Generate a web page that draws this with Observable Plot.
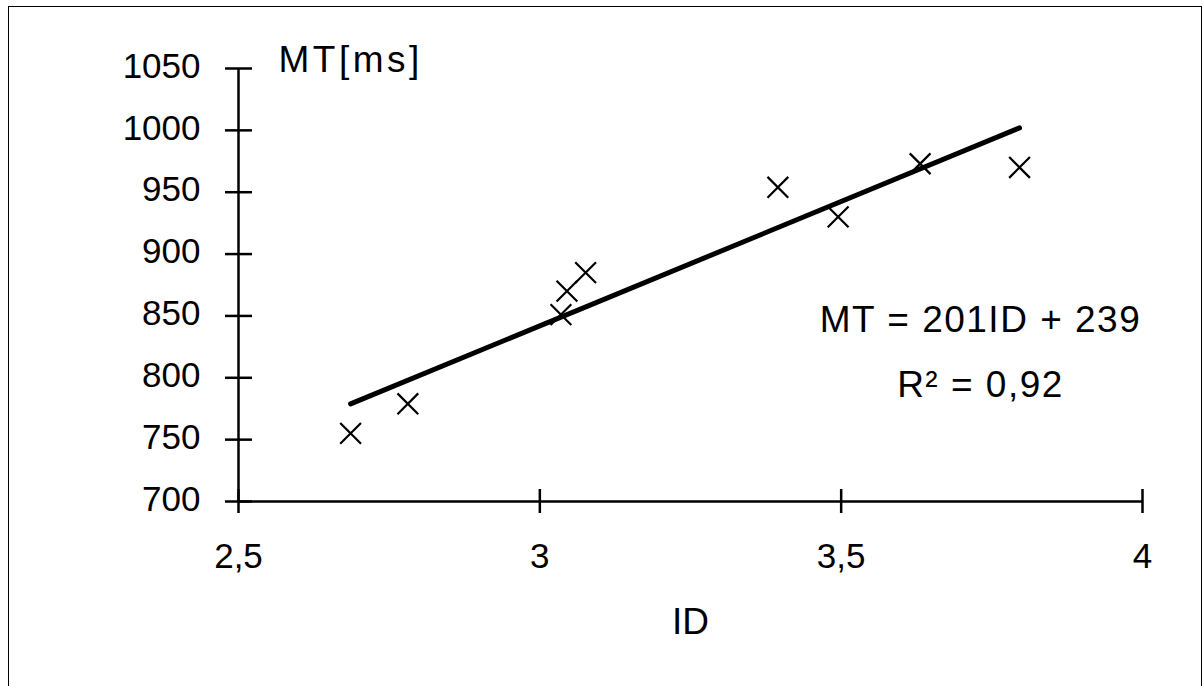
<!DOCTYPE html>
<html>
<head>
<meta charset="utf-8">
<script src="https://cdn.jsdelivr.net/npm/d3@7"></script>
<script src="https://cdn.jsdelivr.net/npm/@observablehq/plot@0.6"></script>
<style>
  html, body { margin: 0; padding: 0; background: #fff; overflow: hidden; }
  #wrap { position: relative; width: 1203px; height: 686px; }
  #border { position: absolute; left: 8px; top: 6px; width: 1194px; height: 720px;
            border: 1.5px solid #000; box-sizing: border-box; pointer-events: none; }
  #wrap svg { display: block; }
</style>
</head>
<body>
<div id="wrap"><div id="border"></div></div>
<script>
// ---- data ----
const ids = [2.686, 2.781, 3.035, 3.045, 3.076, 3.395, 3.495, 3.631, 3.796];
const mts = [755, 779, 851, 870, 885, 954, 930, 973, 970];
const xTicks = [2.5, 3, 3.5, 4];
const yTicks = [700, 750, 800, 850, 900, 950, 1000, 1050];
const slope = 201;
const intercept = 239;
const equationText = "MT = 201ID + 239";
const r2Text = "R\u00B2 = 0,92";
const yLabel = "MT[ms]";
const xLabel = "ID";

const points = ids.map((x, i) => ({x, y: mts[i]}));
const fitX = [d3.min(ids), d3.max(ids)];
const fitLine = fitX.map(x => ({x, y: slope * x + intercept}));
const fmtX = d => String(d).replace(".", ",");
const fmtY = d => String(d);

const chart = Plot.plot({
  width: 1203,
  height: 686,
  marginLeft: 238,
  marginRight: 61,
  marginTop: 68,
  marginBottom: 185,
  style: {fontFamily: "'Liberation Sans', Arial, sans-serif", fontSize: "35px", background: "transparent", color: "#000"},
  x: {domain: [2.5, 4]},
  y: {domain: [700, 1050]},
  marks: [
    // axis lines
    Plot.ruleY([700], {strokeWidth: 2.5}),
    Plot.ruleX([2.5], {strokeWidth: 2.5}),
    // crossing tick marks
    Plot.axisY({ticks: yTicks, tickSize: 27, dx: 14, fill: "none", label: null, strokeWidth: 2.5}),
    Plot.axisX({ticks: xTicks, tickSize: 24, dy: -12, fill: "none", label: null, strokeWidth: 2.5}),
    // tick labels
    Plot.axisY({ticks: yTicks, tickSize: 0, tickPadding: 38, label: null, fontSize: 35, tickFormat: fmtY, dy: -2}),
    Plot.axisX({ticks: xTicks, tickSize: 0, tickPadding: 42, label: null, fontSize: 35, tickFormat: fmtX}),
    // axis titles
    Plot.text([yLabel], {frameAnchor: "top-left", textAnchor: "start", lineAnchor: "middle", dx: 40, dy: -8, fontSize: 37}),
    Plot.text([xLabel], {frameAnchor: "bottom", lineAnchor: "middle", dy: 121, fontSize: 37}),
    // regression line
    Plot.line(fitLine, {x: "x", y: "y", strokeWidth: 5, strokeLinecap: "round"}),
    // data points
    Plot.dot(points, {x: "x", y: "y", symbol: "times", r: 9.5, stroke: "#000", strokeWidth: 2.2}),
    // equation
    Plot.text([equationText], {frameAnchor: "top-right", textAnchor: "middle", lineAnchor: "middle", dx: -162, dy: 252, fontSize: 37}),
    Plot.text([r2Text], {frameAnchor: "top-right", textAnchor: "middle", lineAnchor: "middle", dx: -162, dy: 317, fontSize: 37})
  ]
});

document.getElementById("wrap").appendChild(chart);
chart.querySelectorAll("text").forEach(t => {
  const s = t.textContent;
  if (s === yLabel) t.style.letterSpacing = "3.5px";
  if (s === equationText || s === r2Text) t.style.letterSpacing = "1.5px";
});
</script>
</body>
</html>
